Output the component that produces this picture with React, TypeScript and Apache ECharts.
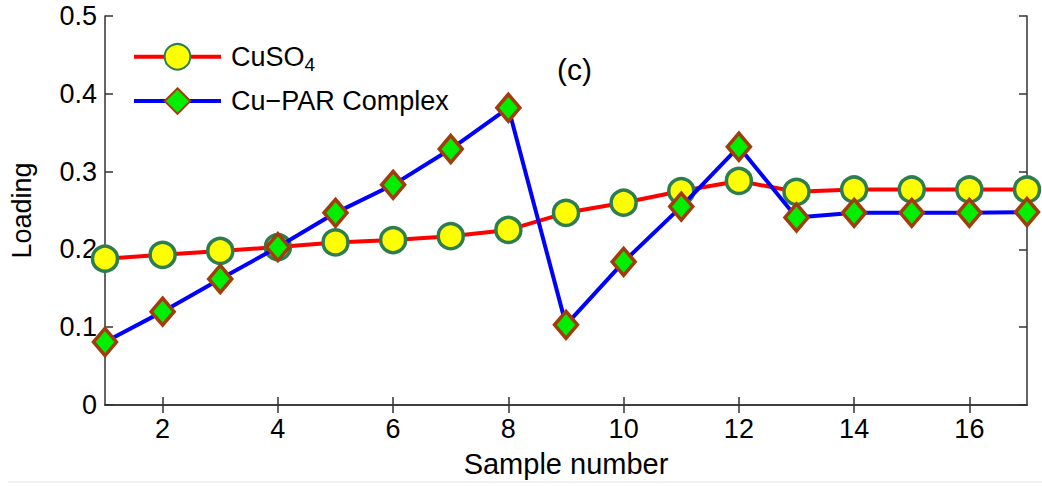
import React, { useEffect, useRef } from "react";
import * as echarts from "echarts";

const samples = [1, 2, 3, 4, 5, 6, 7, 8, 9, 10, 11, 12, 13, 14, 15, 16, 17];
const cuso4 = [0.188, 0.193, 0.198, 0.203, 0.209, 0.212, 0.217, 0.225, 0.247, 0.260, 0.275, 0.288, 0.274, 0.277, 0.277, 0.277, 0.277];
const cuPar = [0.081, 0.120, 0.162, 0.203, 0.247, 0.283, 0.329, 0.382, 0.103, 0.184, 0.255, 0.332, 0.241, 0.247, 0.247, 0.247, 0.248];
const xTicks = [2, 4, 6, 8, 10, 12, 14, 16];

const FONT = "Liberation Sans, Arial, sans-serif";

export default function App() {
  const ref = useRef<HTMLDivElement>(null);
  useEffect(() => {
    if (!ref.current) return;
    const chart = echarts.init(ref.current, null, { renderer: "svg" });
    const axisLine = { show: true, lineStyle: { color: "#333", width: 1.5 } };
    const tick = { show: true, inside: true, length: 8, lineStyle: { color: "#333", width: 1.5 } };
    chart.setOption({
      animation: false,
      backgroundColor: "#fff",
      grid: { left: 100, top: 16, right: 15, bottom: 81 },
      legend: {
        orient: "vertical",
        left: 127,
        top: 38,
        itemWidth: 87,
        itemHeight: 32,
        itemGap: 13,
        lineStyle: { width: 4 },
        textStyle: {
          fontFamily: FONT,
          fontSize: 27,
          color: "#000",
          padding: [0, 0, 0, 5],
          rich: {
            n: { fontFamily: FONT, fontSize: 27, color: "#000" },
            s: { fontFamily: FONT, fontSize: 19, color: "#000", padding: [16, 0, 0, 0] },
          },
        },
        formatter: (name: string) => (name === "CuSO4" ? "{n|CuSO}{s|4}" : name),
        data: ["CuSO4", "Cu\u2212PAR Complex"],
      },
      graphic: [
        {
          type: "text",
          left: 557,
          top: 54,
          style: { text: "(c)", fontFamily: FONT, fontSize: 30, fill: "#000" },
        },
        {
          type: "line",
          shape: { x1: 8, y1: 482, x2: 1042, y2: 482 },
          style: { stroke: "#e4e4e4", lineWidth: 1 },
        },
      ],
      xAxis: [
        {
          type: "value",
          min: 1,
          max: 17,
          name: "Sample number",
          nameLocation: "middle",
          nameGap: 44,
          nameTextStyle: { fontFamily: FONT, fontSize: 29, color: "#000" },
          axisLine,
          axisTick: { ...tick, customValues: xTicks },
          axisLabel: { fontFamily: FONT, fontSize: 27, color: "#000", margin: 10, customValues: xTicks },
          splitLine: { show: false },
        },
        {
          type: "value",
          position: "top",
          min: 1,
          max: 17,
          axisLine,
          axisTick: { ...tick, customValues: xTicks },
          axisLabel: { show: false },
          splitLine: { show: false },
        },
      ],
      yAxis: [
        {
          type: "value",
          min: 0,
          max: 0.5,
          interval: 0.1,
          name: "Loading",
          nameLocation: "middle",
          nameGap: 70,
          nameTextStyle: { fontFamily: FONT, fontSize: 27, color: "#000" },
          axisLine,
          axisTick: tick,
          axisLabel: {
            fontFamily: FONT,
            fontSize: 27,
            color: "#000",
            margin: 8,
            formatter: (v: number) => (v === 0 ? "0" : v.toFixed(1)),
          },
          splitLine: { show: false },
        },
        {
          type: "value",
          position: "right",
          min: 0,
          max: 0.5,
          interval: 0.1,
          axisLine,
          axisTick: tick,
          axisLabel: { show: false },
          splitLine: { show: false },
        },
      ],
      series: [
        {
          name: "CuSO4",
          type: "line",
          clip: false,
          data: samples.map((s, i) => [s, cuso4[i]]),
          symbol: "circle",
          symbolSize: 25,
          lineStyle: { color: "#ff0000", width: 4 },
          itemStyle: { color: "#ffff00", borderColor: "#2e7d4f", borderWidth: 3.5 },
          z: 2,
        },
        {
          name: "Cu\u2212PAR Complex",
          type: "line",
          clip: false,
          data: samples.map((s, i) => [s, cuPar[i]]),
          symbol: "diamond",
          symbolSize: [23, 27],
          lineStyle: { color: "#0000ff", width: 4 },
          itemStyle: { color: "#00ee00", borderColor: "#a23c0c", borderWidth: 3.5 },
          z: 3,
        },
      ],
    });
    return () => chart.dispose();
  }, []);
  return (
    <div
      ref={ref}
      style={{ position: "fixed", left: 0, top: 0, width: 1042, height: 486 }}
    />
  );
}
